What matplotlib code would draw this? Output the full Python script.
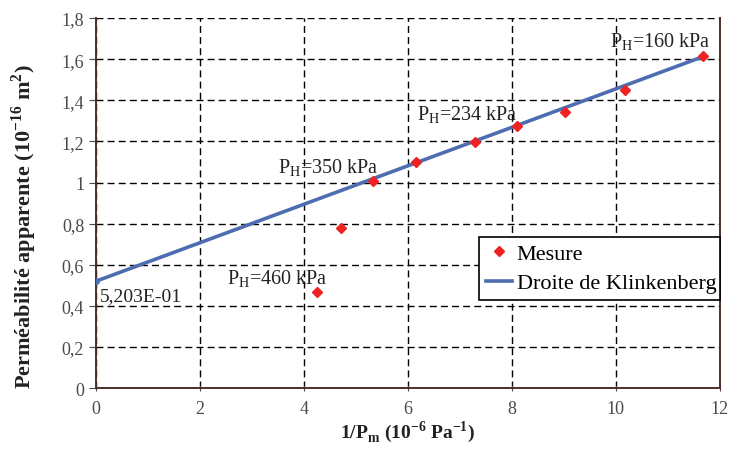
import numpy as np
import matplotlib.pyplot as plt

# Mesures : 1/Pm (10^-6 Pa^-1) et perméabilité apparente (10^-16 m2)
inv_pm = [4.25, 4.72, 5.32, 6.16, 7.30, 8.10, 9.02, 10.18, 11.68]
k_app = [0.47, 0.78, 1.005, 1.10, 1.195, 1.275, 1.345, 1.45, 1.615]

# Droite de Klinkenberg
k_intercept = 0.5203
k_slope = 0.0935
line_x = [0.0, 11.68]

# Annotations (texte, position x, position y)
labels = ["P$_\\mathregular{H}$=160 kPa", "P$_\\mathregular{H}$=234 kPa",
          "P$_\\mathregular{H}$=350 kPa", "P$_\\mathregular{H}$=460 kPa"]
label_x = [9.88, 6.18, 3.50, 2.52]
label_y = [1.66, 1.305, 1.05, 0.51]

x_ticks = [0, 2, 4, 6, 8, 10, 12]
y_ticks = [0, 0.2, 0.4, 0.6, 0.8, 1.0, 1.2, 1.4, 1.6, 1.8]
y_ticklabels = ["0", "0,2", "0,4", "0,6", "0,8", "1", "1,2", "1,4", "1,6", "1,8"]

plt.rcParams['font.family'] = ['Liberation Serif', 'DejaVu Serif']
plt.rcParams['mathtext.fontset'] = 'custom'
plt.rcParams['mathtext.rm'] = 'Liberation Serif'
plt.rcParams['mathtext.bf'] = 'Liberation Serif:bold'

spine_col = "#4a3028"
tick_col = "#4a4a4a"

fig = plt.figure(figsize=(7.33, 4.52), dpi=100)
ax = fig.add_axes([0.131, 0.139, 0.851, 0.819])

line_y = [k_intercept + k_slope * x for x in line_x]
ax.plot(line_x, line_y, color="#4e6cb0", lw=2.6, label="Droite de Klinkenberg", zorder=3)
ax.plot(line_x[0], line_y[0], "o", color="#4e6cb0", ms=4, zorder=3)
ax.plot(inv_pm, k_app, "D", color="#ee2222", ms=5.5, ls="none", label="Mesure", zorder=4)

for t, lx, ly in zip(labels, label_x, label_y):
    ax.text(lx, ly, t, fontsize=14.5, color="#222222")
ax.text(0.08, 0.43, "5,203E-01", fontsize=14, color="#222222")

ax.set_xlim(0, 12)
ax.set_ylim(0, 1.8)
ax.set_xticks(x_ticks)
ax.set_yticks(y_ticks)
ax.set_yticklabels(y_ticklabels)
ax.tick_params(axis="both", labelsize=13, colors=tick_col, length=5)
ax.tick_params(axis="x", direction="inout", pad=6)
ax.tick_params(axis="y", direction="out")

ax.grid(True, color="black", linestyle=(0, (5, 3)), linewidth=1)
ax.set_axisbelow(True)
ax.spines["top"].set_visible(False)
for s in ["left", "bottom", "right"]:
    ax.spines[s].set_color(spine_col)
    ax.spines[s].set_linewidth(1.4)

ax.set_xlabel("1/P$_\\mathbf{m}$ (10$^{\\mathbf{-6}}$ Pa$^{\\mathbf{-1}}$)",
              fontsize=14, fontweight="bold", color="#222222", labelpad=1)
ax.set_ylabel("Perméabilité apparente (10$^{\\mathbf{-16}}$ m$^{\\mathbf{2}}$)",
              fontsize=16, fontweight="bold", color="#222222")
ax.yaxis.set_label_coords(-0.092, 0.44)

handles, lbls = ax.get_legend_handles_labels()
leg = ax.legend(handles[::-1], lbls[::-1], loc="lower left",
                bbox_to_anchor=(0.614, 0.238, 0.386, 0.197), mode="expand",
                fontsize=16, fancybox=False, framealpha=1, borderaxespad=0,
                handlelength=1.2, handletextpad=0.2, borderpad=0.3, labelspacing=0.4)
leg.get_frame().set_edgecolor("black")
leg.get_frame().set_linewidth(1.2)

plt.savefig("out.png", dpi=100)
